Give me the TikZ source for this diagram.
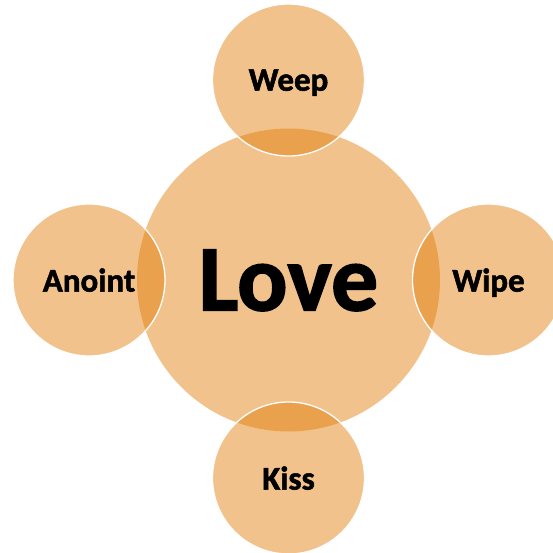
\documentclass[tikz,border=0pt]{standalone}
\usepackage{fontspec}
\setmainfont{Carlito}[BoldFeatures={FakeBold=1.6}]
\usepackage{xcolor}
\definecolor{petal}{HTML}{E07800}

\begin{document}
\begin{tikzpicture}[
  x=1pt, y=-1pt,
  bubble/.style={circle, fill=petal, fill opacity=0.45, text opacity=1,
                 inner sep=0pt, minimum size=152pt, text depth=0pt,
                 font=\bfseries\fontsize{33}{33}\selectfont},
  rim/.style={draw=white, line width=1.3pt}
]
  \useasboundingbox (0,0) rectangle (552,553);

  % centre
  \node[bubble, minimum size=303pt, font=\bfseries\fontsize{94}{94}\selectfont]
    (love) at (288.5,280) {Love};

  % satellites
  \node[bubble, rim] (weep)   at (288.5,80)  {Weep};
  \node[bubble, rim] (anoint) at (89,280)    {Anoint};
  \node[bubble, rim] (wipe)   at (488.5,280) {Wipe};
  \node[bubble, rim] (kiss)   at (288.5,478) {Kiss};
\end{tikzpicture}
\end{document}
